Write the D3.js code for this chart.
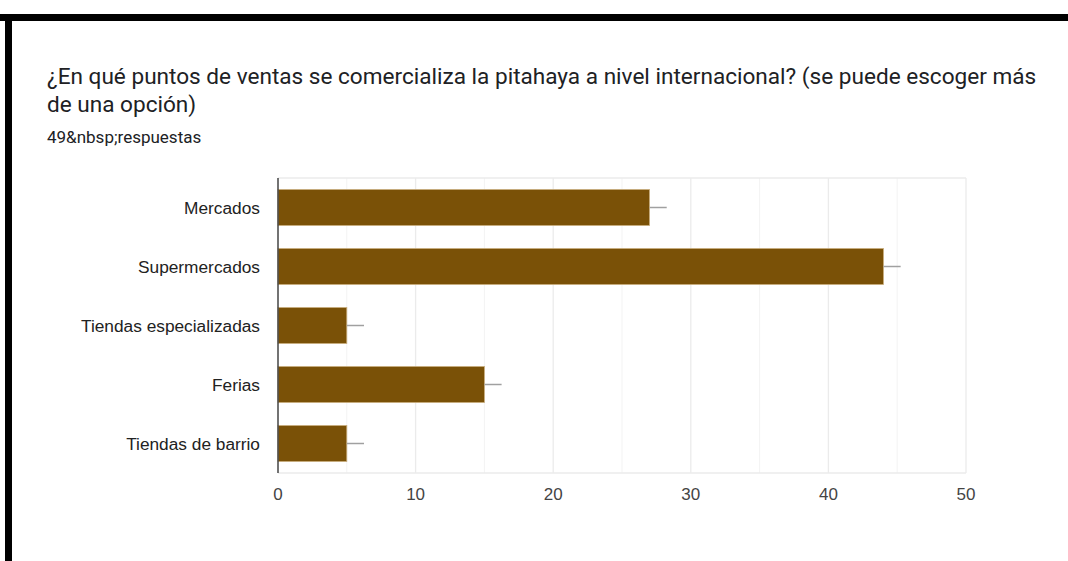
<!DOCTYPE html>
<html>
<head>
<meta charset="utf-8">
<script src="https://cdn.jsdelivr.net/npm/d3@7"></script>
<style>
  html, body { margin: 0; padding: 0; background: #fff; }
  svg { display: block; }
</style>
</head>
<body>
<svg id="chart" width="1068" height="561"></svg>
<script>
// Survey answers: points of sale for pitahaya abroad
const categories = ["Mercados", "Supermercados", "Tiendas especializadas", "Ferias", "Tiendas de barrio"];
const counts = [27, 44, 5, 15, 5];
const whiskerEnds = [28.25, 45.25, 6.25, 16.25, 6.25];
const tickValues = [0, 10, 20, 30, 40, 50];
const minorTicks = [5, 15, 25, 35, 45];

const titleLines = [
  "¿En qué puntos de ventas se comercializa la pitahaya a nivel internacional? (se puede escoger más",
  "de una opción)"
];
const subtitle = "49&nbsp;respuestas";

const svg = d3.select("#chart");

// frame strokes along the top and left
svg.append("rect").attr("x", 0).attr("y", 14).attr("width", 1068).attr("height", 7).attr("fill", "#000");
svg.append("rect").attr("x", 5).attr("y", 14).attr("width", 7).attr("height", 547).attr("fill", "#000");

// heading
const titleFont = "Roboto, 'Noto Sans', sans-serif";
const titles = svg.selectAll("text.title").data(titleLines).join("text")
  .attr("class", "title")
  .attr("x", 47)
  .attr("y", (d, i) => 84 + i * 28)
  .attr("font-family", titleFont)
  .attr("font-size", 22.5)
  .attr("fill", "#202124")
  .text(d => d);

// first heading line runs to x = 1037
const firstLine = titles.filter((d, i) => i === 0).node();
const w = firstLine.getComputedTextLength();
if (w > 0) {
  const fs = 22.5 * 990 / w;
  titles.attr("font-size", fs);
}

svg.append("text")
  .attr("x", 47).attr("y", 143)
  .attr("font-family", titleFont)
  .attr("font-size", 17)
  .attr("fill", "#202124")
  .text(subtitle);

// plot area
const plotL = 278, plotR = 966, plotT = 178, plotB = 473;
const x = d3.scaleLinear().domain([0, 50]).range([plotL, plotR]);
const y = d3.scaleBand().domain(categories).range([plotT, plotB]).paddingInner(0.39).paddingOuter(0.195);

const g = svg.append("g");

// gridlines
g.selectAll("line.minor").data(minorTicks).join("line")
  .attr("class", "minor")
  .attr("x1", d => x(d)).attr("x2", d => x(d))
  .attr("y1", plotT).attr("y2", plotB)
  .attr("stroke", "#f3f3f3").attr("stroke-width", 1);
g.selectAll("line.major").data(tickValues.slice(1)).join("line")
  .attr("class", "major")
  .attr("x1", d => x(d)).attr("x2", d => x(d))
  .attr("y1", plotT).attr("y2", plotB)
  .attr("stroke", "#ebebeb").attr("stroke-width", 1.3);
g.append("line").attr("x1", plotL).attr("x2", plotR).attr("y1", plotT).attr("y2", plotT)
  .attr("stroke", "#ebebeb").attr("stroke-width", 1.3);
g.append("line").attr("x1", plotL).attr("x2", plotR).attr("y1", plotB).attr("y2", plotB)
  .attr("stroke", "#ebebeb").attr("stroke-width", 1.5);

// bars
g.selectAll("rect.bar").data(categories).join("rect")
  .attr("class", "bar")
  .attr("x", x(0))
  .attr("y", d => y(d))
  .attr("width", (d, i) => x(counts[i]) - x(0))
  .attr("height", y.bandwidth())
  .attr("fill", "#7a5107")
  .attr("stroke", "#c9ad7d")
  .attr("stroke-width", 0.8);

// whiskers
g.selectAll("line.whisker").data(categories).join("line")
  .attr("class", "whisker")
  .attr("x1", (d, i) => x(counts[i]))
  .attr("x2", (d, i) => x(whiskerEnds[i]))
  .attr("y1", d => y(d) + y.bandwidth() / 2)
  .attr("y2", d => y(d) + y.bandwidth() / 2)
  .attr("stroke", "#a0a0a0").attr("stroke-width", 1.5);

// baseline axis
g.append("line").attr("x1", plotL).attr("x2", plotL).attr("y1", plotT).attr("y2", plotB)
  .attr("stroke", "#444").attr("stroke-width", 1.5);

// category labels
const labelFont = "'Liberation Sans', Arial, sans-serif";
g.selectAll("text.cat").data(categories).join("text")
  .attr("class", "cat")
  .attr("x", 260)
  .attr("y", d => y(d) + y.bandwidth() / 2)
  .attr("dy", "0.36em")
  .attr("text-anchor", "end")
  .attr("font-family", labelFont)
  .attr("font-size", 17.3)
  .attr("fill", "#222")
  .text(d => d);

// value ticks
g.selectAll("text.tick").data(tickValues).join("text")
  .attr("class", "tick")
  .attr("x", d => x(d))
  .attr("y", 500)
  .attr("text-anchor", "middle")
  .attr("font-family", labelFont)
  .attr("font-size", 17)
  .attr("fill", "#444")
  .text(d => d);
</script>
</body>
</html>
